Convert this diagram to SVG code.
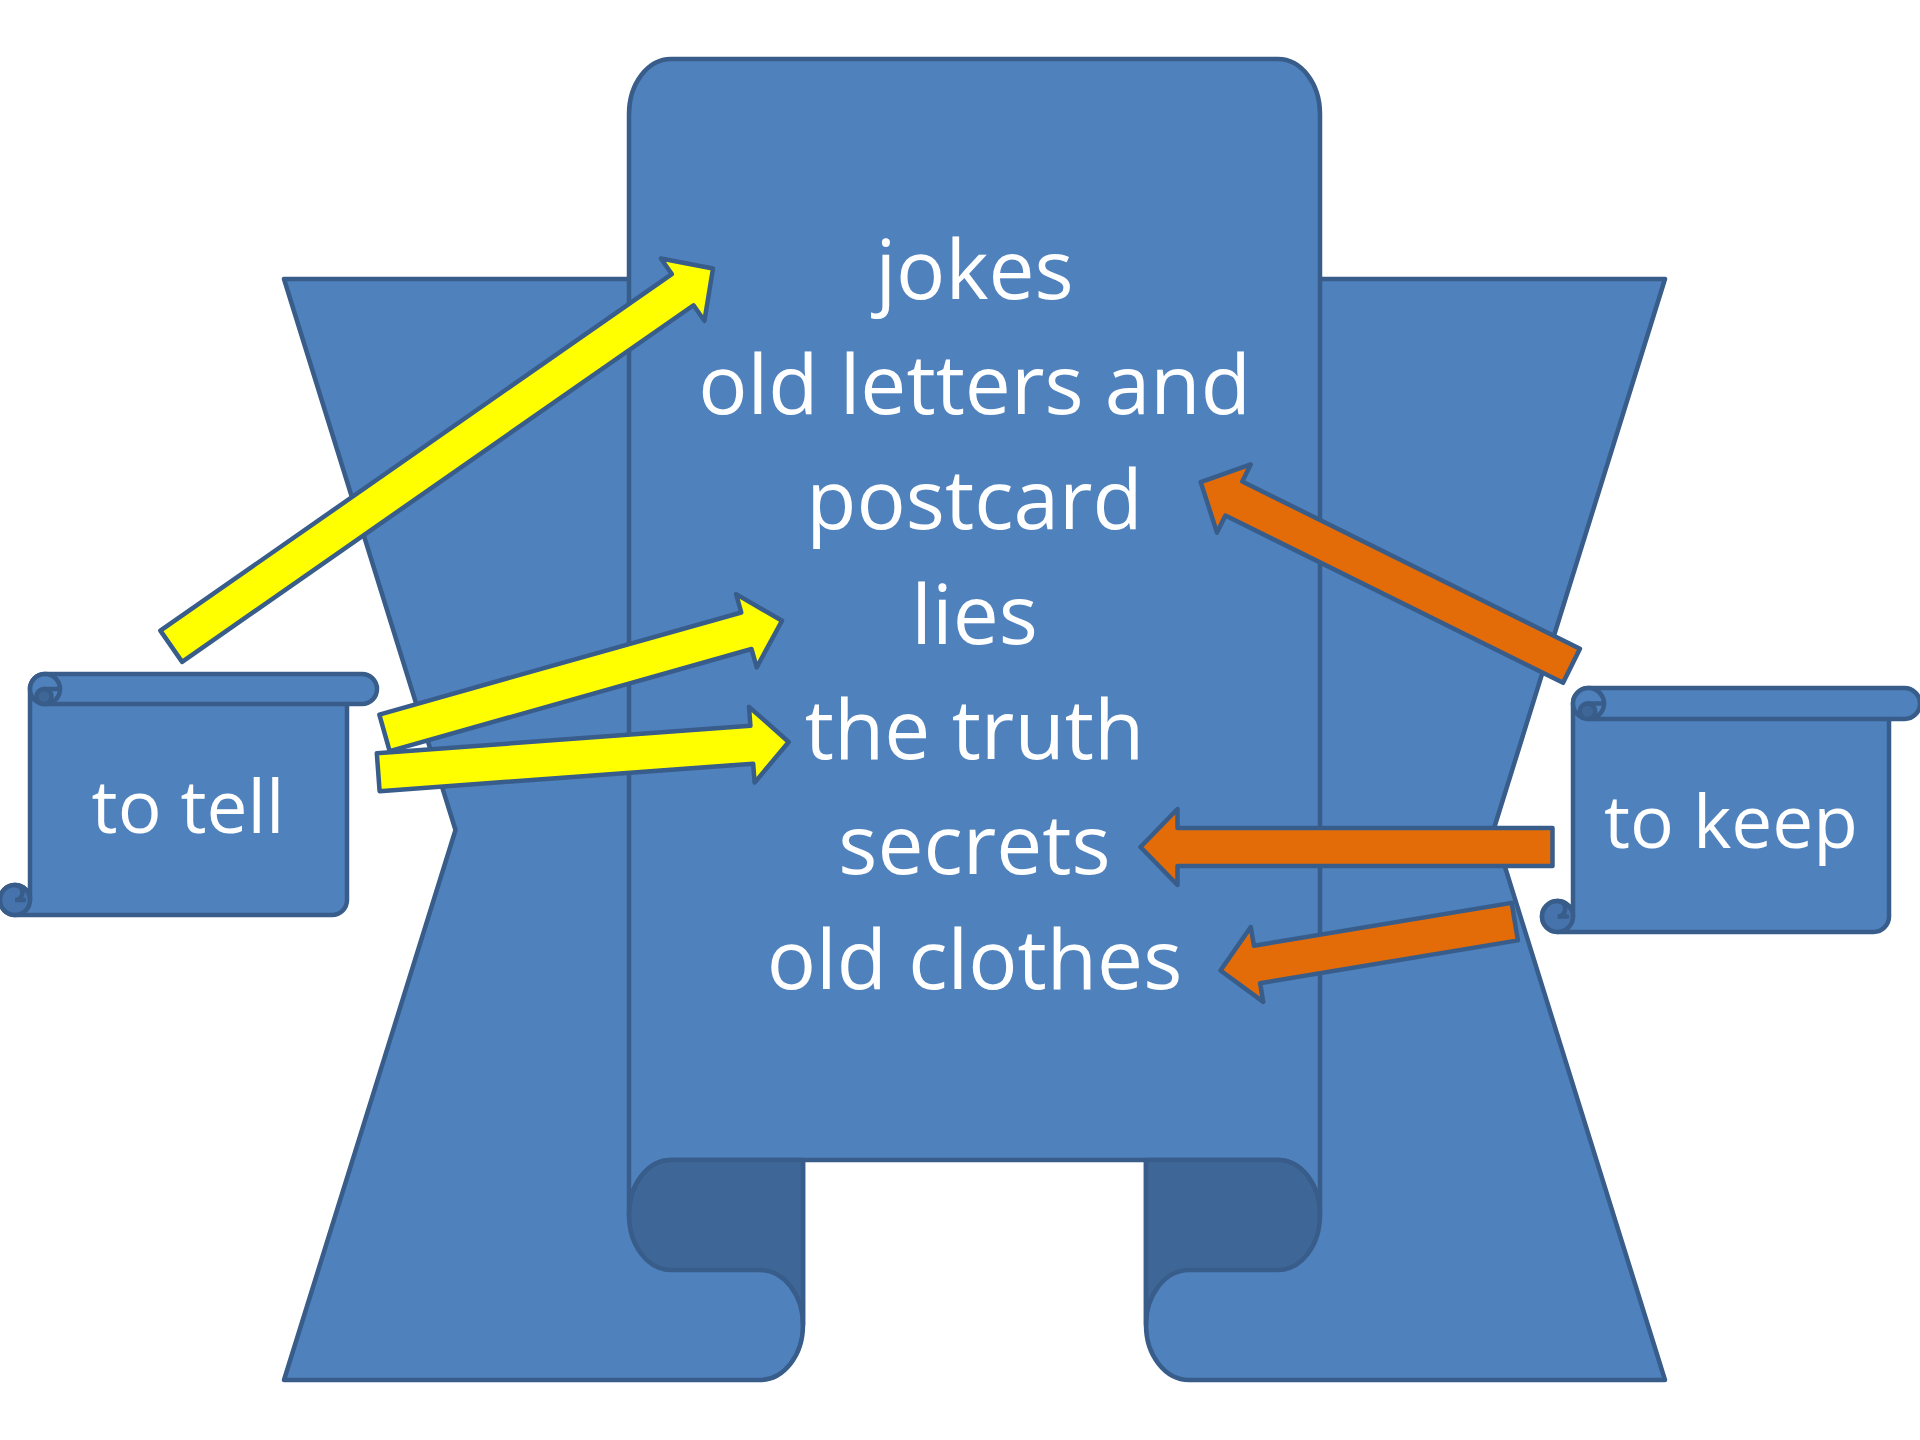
<svg xmlns="http://www.w3.org/2000/svg" width="1920" height="1440" viewBox="0 0 1920 1440">
<defs>
<style>
.rb{fill:#4F81BD;stroke:#385D8A;stroke-width:4.5;stroke-linejoin:round}
.dk{fill:#3E6797;stroke:#385D8A;stroke-width:4.5;stroke-linejoin:round}
.cu{fill:#4673AC;stroke:#385D8A;stroke-width:4.5;stroke-linejoin:round}
.ln{fill:none;stroke:#385D8A;stroke-width:4.5;stroke-linecap:round}
.big{font-family:'Open Sans','Noto Sans',sans-serif;font-size:82px;fill:#FFFFFF;text-anchor:middle}
.sm{font-family:'Open Sans','Noto Sans',sans-serif;font-size:73px;fill:#FFFFFF;text-anchor:middle}
.ya{fill:#FFFF00;stroke:#385D8A;stroke-width:4.5;stroke-linejoin:round}
.oa{fill:#E36C09;stroke:#385D8A;stroke-width:4.5;stroke-linejoin:round}
</style>
<path id="tail" d="M284,279 H700 V1160 H803 V1325 A43,55 0 0 1 760,1380 H284 L455.5,830 Z"/>
<path id="fold" d="M671,1160 H803 V1325 A43,55 0 0 0 760,1270 H671 A42,55 0 0 1 671,1160 Z"/>
</defs>
<rect width="1920" height="1440" fill="#FFFFFF"/>

<g id="ribbon">
  <use href="#tail" class="rb"/>
  <use href="#tail" class="rb" transform="matrix(-1 0 0 1 1949 0)"/>
  <path class="rb" d="M629,1215 V114 A42,55 0 0 1 671,59 H1278 A42,55 0 0 1 1320,114 V1215 A42,55 0 0 0 1278,1160 H671 A42,55 0 0 0 629,1215 Z"/>
  <use href="#fold" class="dk"/>
  <use href="#fold" class="dk" transform="matrix(-1 0 0 1 1949 0)"/>
  <g id="items">
    <text class="big" x="974.5" y="299">jokes</text>
    <text class="big" x="974.5" y="414">old letters and</text>
    <text class="big" x="974.5" y="529">postcard</text>
    <text class="big" x="974.5" y="644">lies</text>
    <text class="big" x="974.5" y="759">the truth</text>
    <text class="big" x="974.5" y="874">secrets</text>
    <text class="big" x="974.5" y="989">old clothes</text>
  </g>
</g>

<g id="scroll-tell" transform="translate(0,674)">
  <path class="rb" d="M30,15 A15,15 0 0 1 45,0 H362 A15,15 0 0 1 362,30 H347 V226 A15,15 0 0 1 332,241 H15 A15,15 0 0 1 0,226 A15,15 0 0 1 15,211 A15,15 0 0 1 30,226 V15 Z"/>
  <path class="ln" d="M45,30 H347"/>
  <circle class="rb" cx="45" cy="15" r="15"/>
  <circle class="dk" cx="44" cy="22.5" r="7.5"/>
  <path class="ln" d="M44,15 H60"/>
  <circle class="cu" cx="15" cy="226" r="15"/>
  <path class="ln" d="M15,211 A7.5,7.5 0 0 1 15,226 H24"/>
  <text class="sm" x="188" y="159">to tell</text>
</g>

<g id="scroll-keep" transform="translate(1542,688)">
  <path class="rb" d="M31,15.5 A15.5,15.5 0 0 1 46.5,0 H362.5 A15.5,15.5 0 0 1 362.5,31 H347 V228.5 A15.5,15.5 0 0 1 331.5,244 H15.5 A15.5,15.5 0 0 1 0,228.5 A15.5,15.5 0 0 1 15.5,213 A15.5,15.5 0 0 1 31,228.5 V15.5 Z"/>
  <path class="ln" d="M46.5,31 H347"/>
  <circle class="rb" cx="46.5" cy="15.5" r="15.5"/>
  <circle class="dk" cx="45.5" cy="23.25" r="7.75"/>
  <path class="ln" d="M45.5,15.5 H62"/>
  <circle class="cu" cx="15.5" cy="228.5" r="15.5"/>
  <path class="ln" d="M15.5,213 A7.75,7.75 0 0 1 15.5,228.5 H25"/>
  <text class="sm" x="189" y="160">to keep</text>
</g>

<g id="connectors">
  <polygon class="ya" points="182.12,661.84 693.52,305.25 704.39,320.83 713,268.5 660.91,258.49 671.78,274.07 160.38,630.66"/>
  <polygon class="ya" points="389.66,751.14 751.55,649.04 756.71,667.33 782,620.7 736.07,594.17 741.23,612.46 379.34,714.56"/>
  <polygon class="ya" points="379.59,791.15 753.19,763.67 754.59,782.62 788.7,742 749.01,706.82 750.41,725.77 376.81,753.25"/>
  <polygon class="oa" points="1579.93,648.77 1242.29,481.49 1250.73,464.47 1200.7,482.1 1216.99,532.57 1225.43,515.55 1563.07,682.83"/>
  <polygon class="oa" points="1552.5,828 1177.5,828 1177.5,809 1140.5,847 1177.5,885 1177.5,866 1552.5,866"/>
  <polygon class="oa" points="1511.69,902.85 1253.89,945.68 1250.77,926.94 1220.5,970.5 1263.23,1001.92 1260.11,983.18 1517.91,940.35"/>
</g>
</svg>
